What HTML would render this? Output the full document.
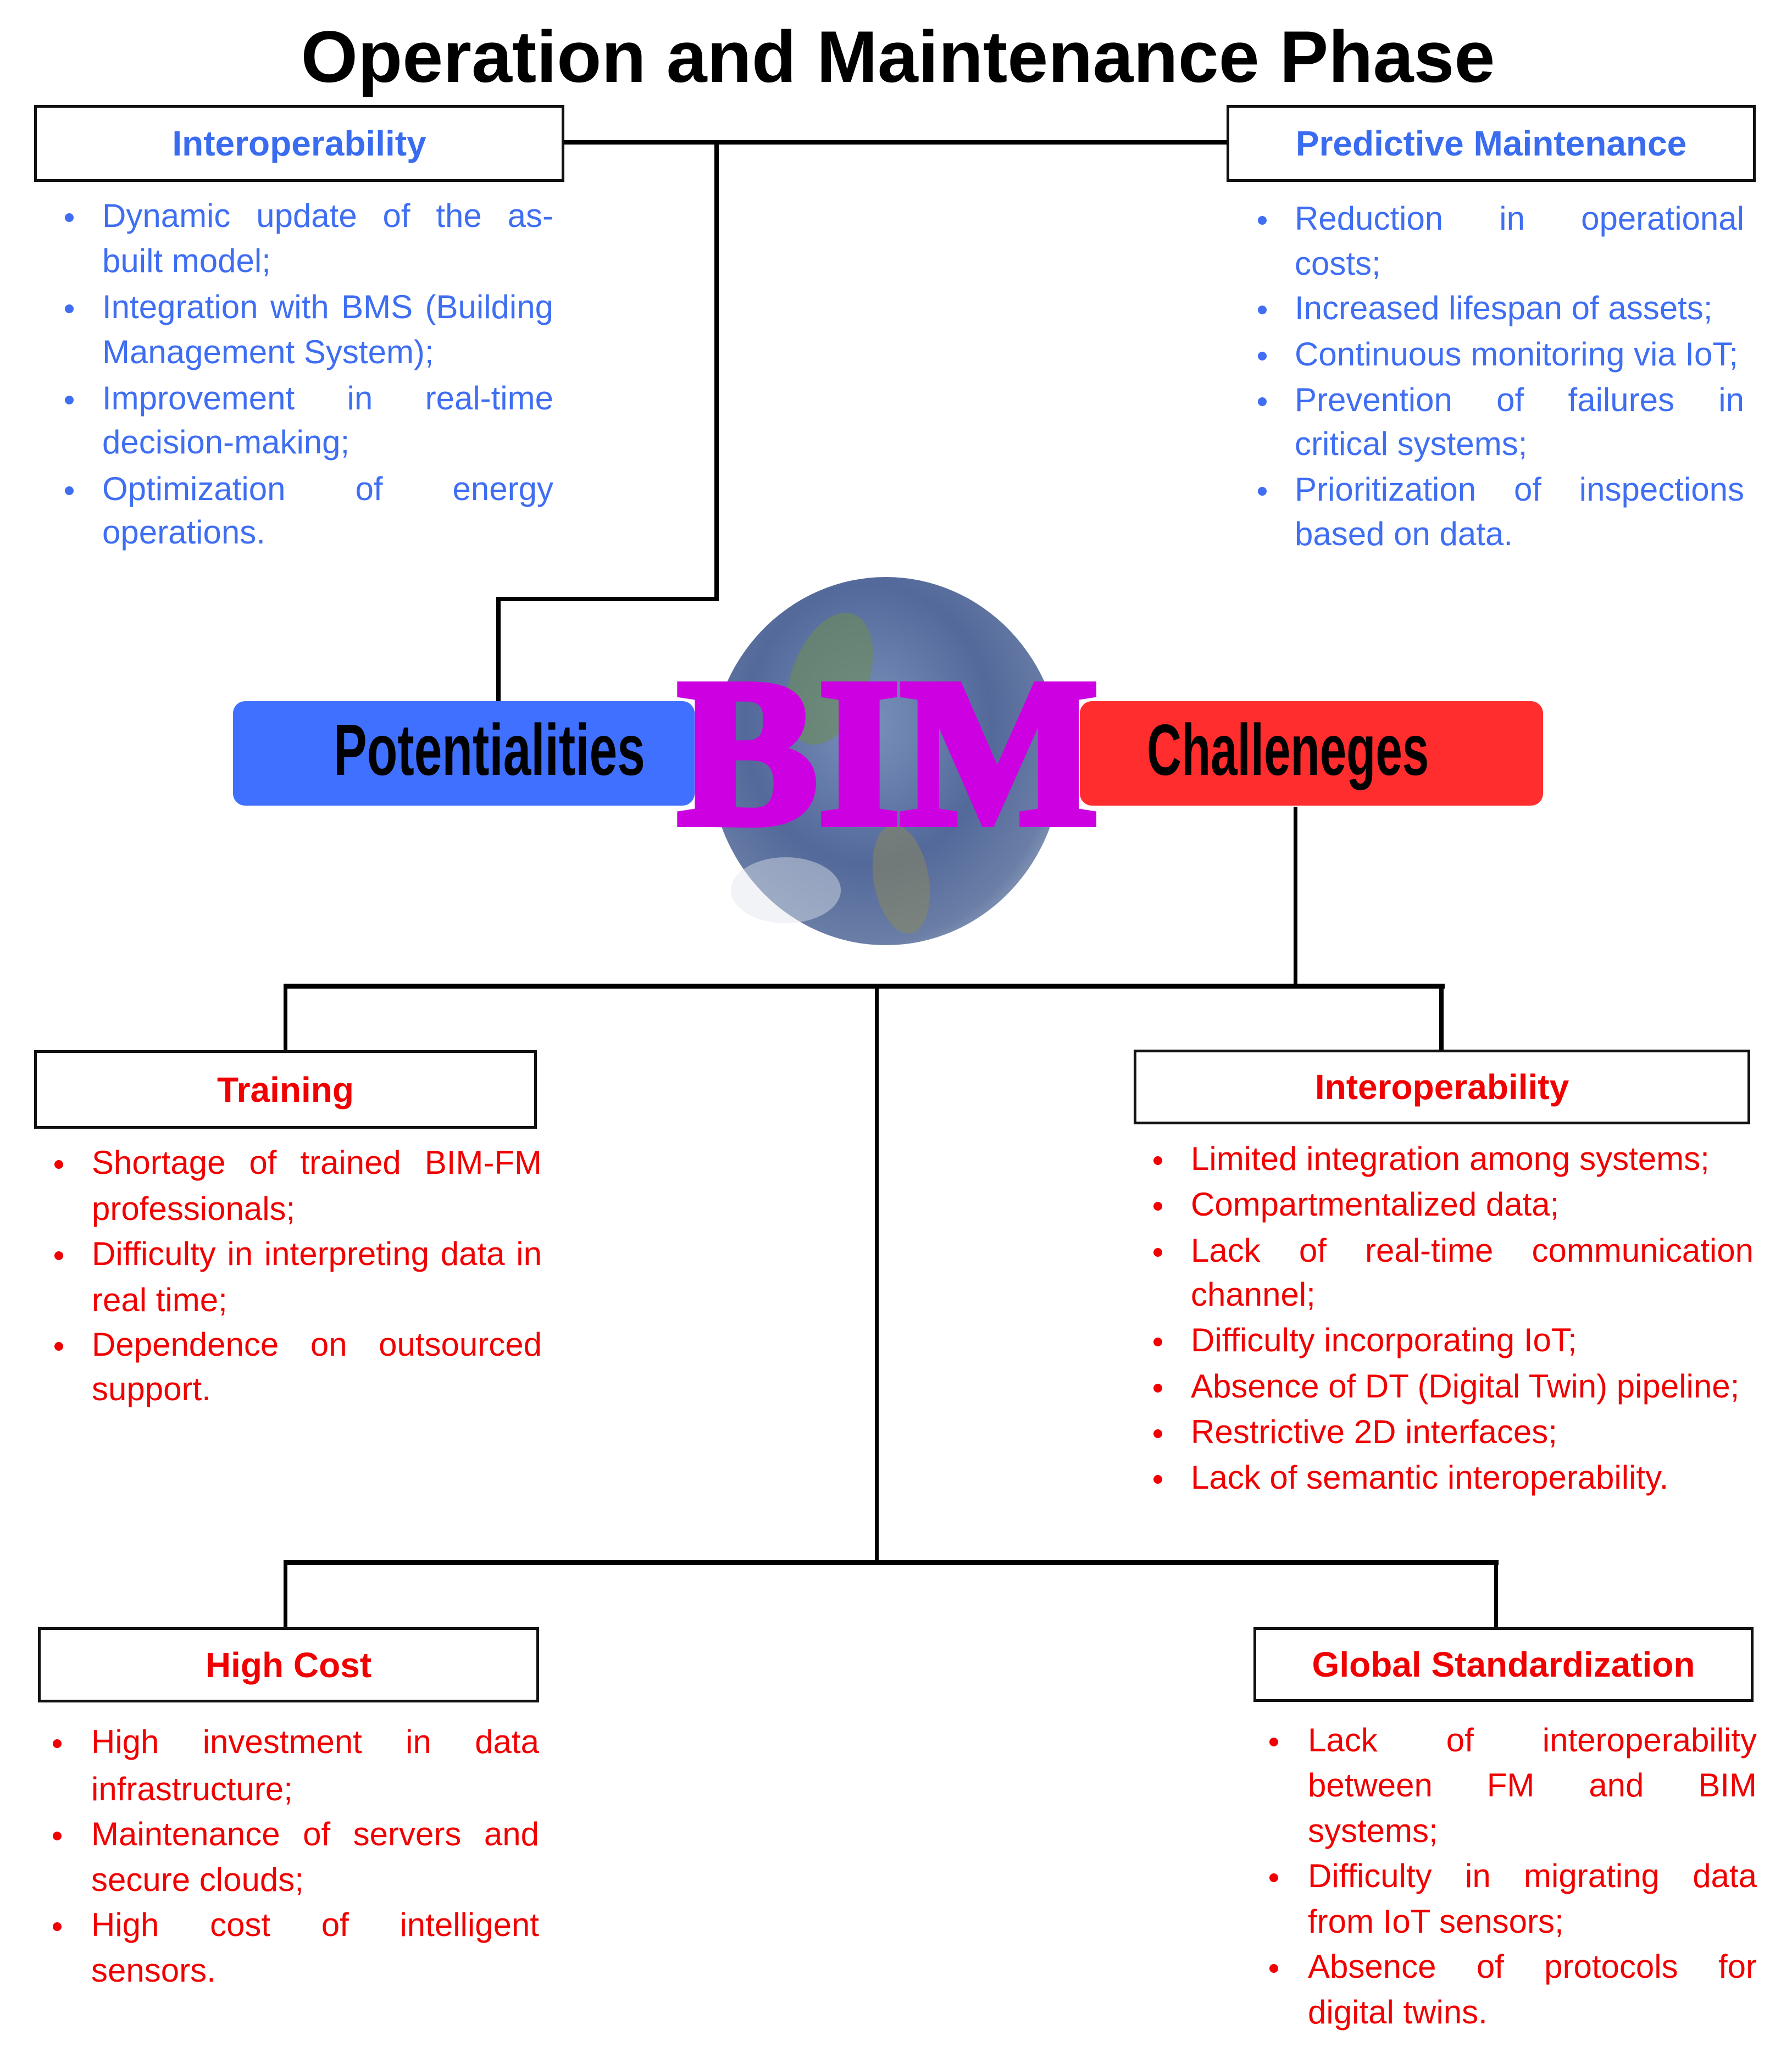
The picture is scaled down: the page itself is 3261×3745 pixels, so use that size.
<!DOCTYPE html>
<html><head><meta charset="utf-8"><style>
*{margin:0;padding:0;box-sizing:border-box}
body{width:3261px;height:3745px;background:#fff;position:relative;overflow:hidden;font-family:"Liberation Sans",Arial,sans-serif}
.abs{position:absolute}
.title{position:absolute;left:0;width:3261px;top:38px;text-align:center;font-size:133px;font-weight:bold;line-height:133px;color:#000;padding-left:7px}
.box{position:absolute;border:5px solid #111;background:#fff;display:flex;align-items:center;justify-content:center;font-weight:bold;font-size:64px}
.L{position:absolute;height:83px;line-height:83px;font-size:60px;white-space:nowrap}
.j{display:flex;justify-content:space-between}
.b{color:#3f6ef2}.r{color:#f00000}
.dot{position:absolute;width:16px;height:16px;border-radius:50%}
.ln{position:absolute;background:#000}
</style></head><body>

<div class="title">Operation and Maintenance Phase</div>

<!-- connectors -->
<div class="ln" style="left:1027px;top:255px;width:1207px;height:8px"></div>
<div class="ln" style="left:1300px;top:255px;width:8px;height:839px"></div>
<div class="ln" style="left:903px;top:1086px;width:405px;height:8px"></div>
<div class="ln" style="left:903px;top:1086px;width:8px;height:192px"></div>

<div class="ln" style="left:2354px;top:1468px;width:7px;height:330px"></div>
<div class="ln" style="left:516px;top:1790px;width:2113px;height:9px"></div>
<div class="ln" style="left:516px;top:1790px;width:7px;height:122px"></div>
<div class="ln" style="left:2619px;top:1790px;width:8px;height:122px"></div>
<div class="ln" style="left:1592px;top:1790px;width:7px;height:1057px"></div>
<div class="ln" style="left:516px;top:2839px;width:2211px;height:9px"></div>
<div class="ln" style="left:516px;top:2839px;width:7px;height:123px"></div>
<div class="ln" style="left:2719px;top:2839px;width:7px;height:123px"></div>

<!-- globe -->
<div class="abs" style="left:1292px;top:1050px;width:640px;height:670px;border-radius:50%;background:radial-gradient(ellipse at 45% 40%,#7a90bb 0%,#53699a 45%,#6a7ea6 70%,#b8c2d6 90%,#eef0f4 100%)"></div>
<div class="abs" style="left:1440px;top:1110px;width:140px;height:250px;border-radius:50%;background:#6a8c55;opacity:.6;transform:rotate(20deg)"></div>
<div class="abs" style="left:1590px;top:1500px;width:100px;height:200px;border-radius:50%;background:#8e8a58;opacity:.5;transform:rotate(-10deg)"></div>
<div class="abs" style="left:1330px;top:1560px;width:200px;height:120px;border-radius:50%;background:#dfe4ec;opacity:.45"></div>

<!-- bars -->
<div class="abs" style="left:424px;top:1276px;width:840px;height:190px;border-radius:22px;background:#4070ff"></div>
<div class="abs" style="left:1965px;top:1276px;width:843px;height:190px;border-radius:22px;background:#ff2d2d"></div>
<div class="abs" style="left:607px;top:1290px;height:150px;line-height:150px;font-size:132px;font-weight:bold;color:#000;transform:scaleX(0.69);transform-origin:left center;white-space:nowrap">Potentialities</div>
<div class="abs" style="left:2087px;top:1290px;height:150px;line-height:150px;font-size:132px;font-weight:bold;color:#000;transform:scaleX(0.66);transform-origin:left center;white-space:nowrap">Challeneges</div>

<!-- BIM -->
<div class="abs" style="left:1234px;top:1200px;width:761px;height:340px;line-height:340px;text-align:center;font-family:'Liberation Serif',serif;font-weight:bold;font-size:380px;color:#cc00e0;-webkit-text-stroke:16px #cc00e0;white-space:nowrap;letter-spacing:2px">BIM</div>

<!-- header boxes -->
<div class="box b" style="left:62px;top:191px;width:965px;height:140px;color:#3a6cf0">Interoperability</div>
<div class="box b" style="left:2232px;top:191px;width:963px;height:140px;color:#3a6cf0">Predictive Maintenance</div>
<div class="box r" style="left:62px;top:1911px;width:915px;height:143px">Training</div>
<div class="box r" style="left:2063px;top:1910px;width:1122px;height:136px">Interoperability</div>
<div class="box r" style="left:69px;top:2961px;width:912px;height:137px">High Cost</div>
<div class="box r" style="left:2281px;top:2961px;width:910px;height:136px">Global Standardization</div>

<!-- Interoperability blue -->
<div class="L b j" style="left:186px;width:821px;top:351px"><span>Dynamic</span><span>update</span><span>of</span><span>the</span><span>as-</span></div>
<div class="L b" style="left:186px;top:433px">built model;</div>
<div class="L b j" style="left:186px;width:821px;top:517px"><span>Integration</span><span>with</span><span>BMS</span><span>(Building</span></div>
<div class="L b" style="left:186px;top:599px">Management System);</div>
<div class="L b j" style="left:186px;width:821px;top:683px"><span>Improvement</span><span>in</span><span>real-time</span></div>
<div class="L b" style="left:186px;top:763px">decision-making;</div>
<div class="L b j" style="left:186px;width:821px;top:848px"><span>Optimization</span><span>of</span><span>energy</span></div>
<div class="L b" style="left:186px;top:927px">operations.</div>
<div class="dot" style="background:#3f6ef2;left:118px;top:388px"></div>
<div class="dot" style="background:#3f6ef2;left:118px;top:554px"></div>
<div class="dot" style="background:#3f6ef2;left:118px;top:720px"></div>
<div class="dot" style="background:#3f6ef2;left:118px;top:885px"></div>

<!-- Predictive -->
<div class="L b j" style="left:2356px;width:818px;top:356px"><span>Reduction</span><span>in</span><span>operational</span></div>
<div class="L b" style="left:2356px;top:438px">costs;</div>
<div class="L b" style="left:2356px;top:519px">Increased lifespan of assets;</div>
<div class="L b" style="left:2356px;top:603px">Continuous monitoring via IoT;</div>
<div class="L b j" style="left:2356px;width:818px;top:686px"><span>Prevention</span><span>of</span><span>failures</span><span>in</span></div>
<div class="L b" style="left:2356px;top:766px">critical systems;</div>
<div class="L b j" style="left:2356px;width:818px;top:849px"><span>Prioritization</span><span>of</span><span>inspections</span></div>
<div class="L b" style="left:2356px;top:930px">based on data.</div>
<div class="dot" style="background:#3f6ef2;left:2289px;top:393px"></div>
<div class="dot" style="background:#3f6ef2;left:2289px;top:556px"></div>
<div class="dot" style="background:#3f6ef2;left:2289px;top:640px"></div>
<div class="dot" style="background:#3f6ef2;left:2289px;top:723px"></div>
<div class="dot" style="background:#3f6ef2;left:2289px;top:886px"></div>

<!-- Training -->
<div class="L r j" style="left:167px;width:819px;top:2074px"><span>Shortage</span><span>of</span><span>trained</span><span>BIM-FM</span></div>
<div class="L r" style="left:167px;top:2158px">professionals;</div>
<div class="L r j" style="left:167px;width:819px;top:2240px"><span>Difficulty</span><span>in</span><span>interpreting</span><span>data</span><span>in</span></div>
<div class="L r" style="left:167px;top:2324px">real time;</div>
<div class="L r j" style="left:167px;width:819px;top:2405px"><span>Dependence</span><span>on</span><span>outsourced</span></div>
<div class="L r" style="left:167px;top:2486px">support.</div>
<div class="dot" style="background:#f00000;left:99px;top:2111px"></div>
<div class="dot" style="background:#f00000;left:99px;top:2277px"></div>
<div class="dot" style="background:#f00000;left:99px;top:2442px"></div>

<!-- Interoperability red -->
<div class="L r" style="left:2167px;top:2067px">Limited integration among systems;</div>
<div class="L r" style="left:2167px;top:2150px">Compartmentalized data;</div>
<div class="L r j" style="left:2167px;width:1024px;top:2234px"><span>Lack</span><span>of</span><span>real-time</span><span>communication</span></div>
<div class="L r" style="left:2167px;top:2314px">channel;</div>
<div class="L r" style="left:2167px;top:2397px">Difficulty incorporating IoT;</div>
<div class="L r" style="left:2167px;top:2481px">Absence of DT (Digital Twin) pipeline;</div>
<div class="L r" style="left:2167px;top:2564px">Restrictive 2D interfaces;</div>
<div class="L r" style="left:2167px;top:2647px">Lack of semantic interoperability.</div>
<div class="dot" style="background:#f00000;left:2099px;top:2104px"></div>
<div class="dot" style="background:#f00000;left:2099px;top:2187px"></div>
<div class="dot" style="background:#f00000;left:2099px;top:2271px"></div>
<div class="dot" style="background:#f00000;left:2099px;top:2434px"></div>
<div class="dot" style="background:#f00000;left:2099px;top:2518px"></div>
<div class="dot" style="background:#f00000;left:2099px;top:2601px"></div>
<div class="dot" style="background:#f00000;left:2099px;top:2684px"></div>

<!-- High Cost -->
<div class="L r j" style="left:166px;width:815px;top:3128px"><span>High</span><span>investment</span><span>in</span><span>data</span></div>
<div class="L r" style="left:166px;top:3214px">infrastructure;</div>
<div class="L r j" style="left:166px;width:815px;top:3296px"><span>Maintenance</span><span>of</span><span>servers</span><span>and</span></div>
<div class="L r" style="left:166px;top:3379px">secure clouds;</div>
<div class="L r j" style="left:166px;width:815px;top:3461px"><span>High</span><span>cost</span><span>of</span><span>intelligent</span></div>
<div class="L r" style="left:166px;top:3544px">sensors.</div>
<div class="dot" style="background:#f00000;left:96px;top:3165px"></div>
<div class="dot" style="background:#f00000;left:96px;top:3333px"></div>
<div class="dot" style="background:#f00000;left:96px;top:3498px"></div>

<!-- Global -->
<div class="L r j" style="left:2380px;width:817px;top:3125px"><span>Lack</span><span>of</span><span>interoperability</span></div>
<div class="L r j" style="left:2380px;width:817px;top:3207px"><span>between</span><span>FM</span><span>and</span><span>BIM</span></div>
<div class="L r" style="left:2380px;top:3290px">systems;</div>
<div class="L r j" style="left:2380px;width:817px;top:3372px"><span>Difficulty</span><span>in</span><span>migrating</span><span>data</span></div>
<div class="L r" style="left:2380px;top:3455px">from IoT sensors;</div>
<div class="L r j" style="left:2380px;width:817px;top:3537px"><span>Absence</span><span>of</span><span>protocols</span><span>for</span></div>
<div class="L r" style="left:2380px;top:3620px">digital twins.</div>
<div class="dot" style="background:#f00000;left:2310px;top:3162px"></div>
<div class="dot" style="background:#f00000;left:2310px;top:3409px"></div>
<div class="dot" style="background:#f00000;left:2310px;top:3574px"></div>

</body></html>
